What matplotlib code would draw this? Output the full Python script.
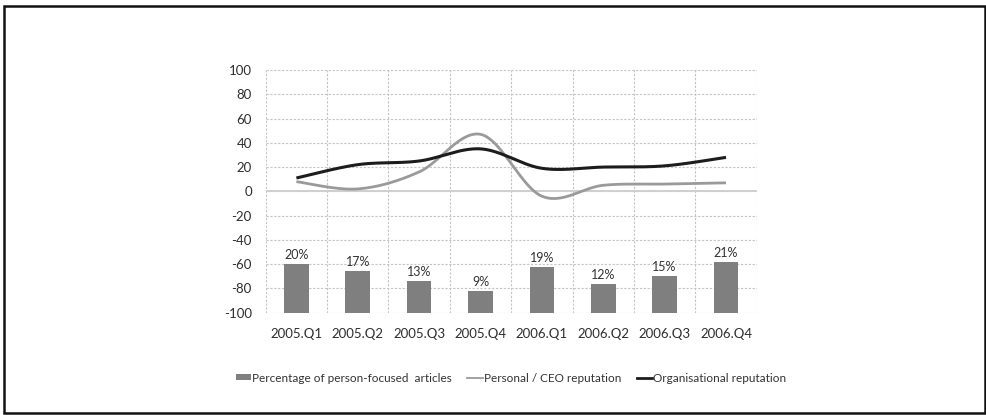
import numpy as np
import matplotlib
matplotlib.use("Agg")
import matplotlib.pyplot as plt
from matplotlib.patches import Patch, Rectangle
from matplotlib.lines import Line2D

# ---- data ----
quarters = ["2005.Q1", "2005.Q2", "2005.Q3", "2005.Q4",
            "2006.Q1", "2006.Q2", "2006.Q3", "2006.Q4"]
person_focused_pct = [20, 17, 13, 9, 19, 12, 15, 21]
ceo_reputation = [8, 2, 16, 47, -4, 5, 6, 7]
org_reputation = [11, 22, 25, 35, 19, 20, 21, 28]
y_ticks = list(range(-100, 101, 20))

plt.rcParams['font.family'] = ['Lato', 'DejaVu Sans']
plt.rcParams['axes.unicode_minus'] = False

W, H = 987, 415
fig = plt.figure(figsize=(W / 100, H / 100), dpi=100)
ax = fig.add_axes([265.7 / W, 1 - 312.7 / H, 491 / W, (312.7 - 70) / H])

x = np.arange(len(quarters))

# bars rise from the bottom of the value axis (-100), 2 units per percent
pct = np.array(person_focused_pct, dtype=float)
ax.bar(x, pct * 2, bottom=-100, width=0.4, color='#7f7f7f', zorder=3)
for xi, p in zip(x, person_focused_pct):
    ax.text(xi, -100 + 2 * p + 2.5, f"{p}%", ha='center', va='bottom',
            fontsize=9, color='#333333', zorder=4)


def smooth(xs, ys, n=40):
    """Cardinal (Catmull-Rom style) Bezier curve through the points."""
    P = np.column_stack([xs, ys]).astype(float)
    m = len(P)
    out = []
    t = np.linspace(0, 1, n)[:, None]
    for i in range(m - 1):
        p0 = P[i - 1] if i > 0 else P[i]
        p1 = P[i]
        p2 = P[i + 1]
        p3 = P[i + 2] if i + 2 < m else P[i + 1]
        c1 = p1 + (p2 - p0) / 6
        c2 = p2 - (p3 - p1) / 6
        seg = ((1 - t) ** 3) * p1 + 3 * ((1 - t) ** 2) * t * c1 \
            + 3 * (1 - t) * t ** 2 * c2 + t ** 3 * p2
        out.append(seg if i == 0 else seg[1:])
    c = np.vstack(out)
    return c[:, 0], c[:, 1]


sx, sy = smooth(x, ceo_reputation)
ax.plot(sx, sy, color='#9a9a9a', lw=2.0, zorder=5, solid_capstyle='butt')
sx, sy = smooth(x, org_reputation)
ax.plot(sx, sy, color='#1c1c1c', lw=2.2, zorder=6, solid_capstyle='butt')

# axes, grid
ax.set_xlim(-0.5, len(quarters) - 0.5)
ax.set_ylim(-100, 100)
ax.set_yticks(y_ticks)
ax.set_xticks(x)
ax.set_xticklabels(quarters)
ax.set_xticks(np.arange(-0.5, len(quarters), 0.5), minor=True)
grid_kw = dict(color='#c4c4c4', lw=0.8, linestyle=(0, (2, 1.5)))
ax.grid(True, which='minor', axis='x', **grid_kw)
ax.grid(True, which='major', axis='y', **grid_kw)
ax.grid(False, which='major', axis='x')
ax.axhline(0, color='#cfcfcf', lw=1.4, zorder=2)
ax.set_axisbelow(True)
for s in ax.spines.values():
    s.set_visible(False)
ax.tick_params(axis='both', which='both', length=0, labelsize=9.5,
               labelcolor='#2e2e2e')
ax.tick_params(axis='y', pad=10)
ax.tick_params(axis='x', pad=11)

# legend below the plot
handles = [
    Patch(facecolor='#7f7f7f', edgecolor='none'),
    Line2D([], [], color='#9a9a9a', lw=1.3),
    Line2D([], [], color='#1c1c1c', lw=2.0),
]
labels = ["Percentage of person-focused  articles",
          "Personal / CEO reputation",
          "Organisational reputation"]
fig.legend(handles, labels, loc='center', bbox_to_anchor=(511 / W, 1 - 378 / H),
           ncol=3, frameon=False, fontsize=8.5, handlelength=1.3,
           handleheight=0.45, handletextpad=0.1, columnspacing=1.3,
           labelcolor='#333333')

# outer frame
fig.patches.append(Rectangle((4 / W, 2 / H), 981 / W, 407 / H,
                             transform=fig.transFigure, fill=False,
                             edgecolor='#111111', lw=1.8))

fig.savefig("out.png", dpi=100)
